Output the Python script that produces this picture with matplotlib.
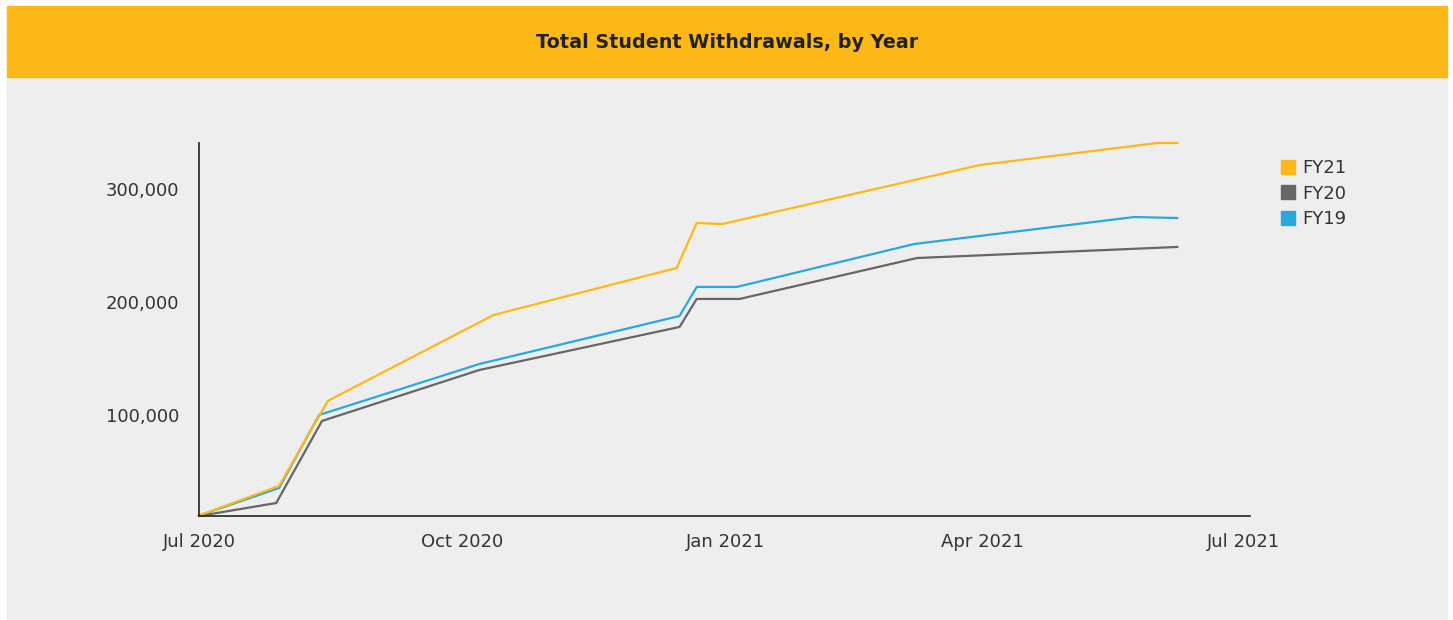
import matplotlib
matplotlib.use("Agg")
import matplotlib.pyplot as plt
import matplotlib.dates as mdates
from matplotlib.patches import Rectangle
from matplotlib.lines import Line2D
import pandas as pd

# series data
fy21_dates = ["2020-07-01", "2020-07-29", "2020-08-15", "2020-10-12", "2020-12-15",
              "2020-12-22", "2020-12-31", "2021-03-31", "2021-06-01", "2021-06-08"]
fy21_values = [11000, 37200, 112400, 188500, 230100, 269900, 269000, 321200, 340700, 340700]

fy20_dates = ["2020-07-01", "2020-07-28", "2020-08-13", "2020-10-07", "2020-12-16",
              "2020-12-22", "2021-01-06", "2021-03-09", "2021-06-08"]
fy20_values = [10600, 22100, 94700, 139800, 177900, 202700, 202700, 238900, 248700]

fy19_dates = ["2020-07-01", "2020-07-29", "2020-08-12", "2020-10-07", "2020-12-16",
              "2020-12-22", "2021-01-05", "2021-03-08", "2021-05-24", "2021-06-08"]
fy19_values = [11000, 35400, 100000, 145100, 187600, 213300, 213300, 251300, 275200, 274300]

series_names = ["FY21", "FY20", "FY19"]
colors = ["#FDB817", "#666666", "#29A8E0"]
title = "Total Student Withdrawals, by Year"

W, H = 1453, 620
fig = plt.figure(figsize=(W / 100, H / 100), dpi=100, facecolor="white")

# banner + grey panel (behind the axes)
fig.patches.append(Rectangle((7 / W, 0), 1440 / W, (620 - 77) / H,
                             transform=fig.transFigure, color="#EEEEEE", zorder=-2))
fig.patches.append(Rectangle((7 / W, 1 - 77 / H), 1440 / W, 71 / H,
                             transform=fig.transFigure, color="#FCB817", zorder=-2))
fig.text(727 / W, 1 - 42 / H, title, ha="center", va="center",
         fontsize=13.8, fontweight="bold", color="#222222")

ax = fig.add_axes([199 / W, 104 / H, (1250 - 199) / W, (516 - 143) / H])
ax.set_facecolor("none")

all_data = [(fy21_dates, fy21_values), (fy20_dates, fy20_values), (fy19_dates, fy19_values)]
# grey first, then blue, yellow on top
for (d, v), name, c in list(zip(all_data, series_names, colors))[::-1]:
    ax.plot(pd.to_datetime(d), v, color=c, lw=1.6, label=name, clip_on=False)

ax.set_xlim(pd.Timestamp("2020-07-01"), pd.Timestamp("2021-07-03 10:00"))
ax.set_ylim(10600, 340700)
ax.xaxis.set_major_locator(mdates.MonthLocator(bymonth=[1, 4, 7, 10]))
ax.xaxis.set_major_formatter(mdates.DateFormatter("%b %Y"))
ax.set_yticks([100000, 200000, 300000])
ax.yaxis.set_major_formatter(matplotlib.ticker.FuncFormatter(lambda x, p: f"{int(x):,}"))
ax.tick_params(length=0, labelsize=13, labelcolor="#333333")
ax.tick_params(axis="x", pad=12)
ax.tick_params(axis="y", pad=14)
for s in ["top", "right"]:
    ax.spines[s].set_visible(False)
for s in ["left", "bottom"]:
    ax.spines[s].set_color("#222222")
    ax.spines[s].set_linewidth(1.2)

handles = [Line2D([], [], marker="s", ls="none", markersize=10, color=c) for c in colors]
fig.legend(handles, series_names, loc="upper left", bbox_to_anchor=(1279 / W, 1 - 159 / H),
           frameon=False, fontsize=13, handlelength=1.0, handletextpad=0.3,
           labelspacing=0.42, labelcolor="#333333", borderaxespad=0, borderpad=0)

fig.savefig("out.png", dpi=100, facecolor="white")
